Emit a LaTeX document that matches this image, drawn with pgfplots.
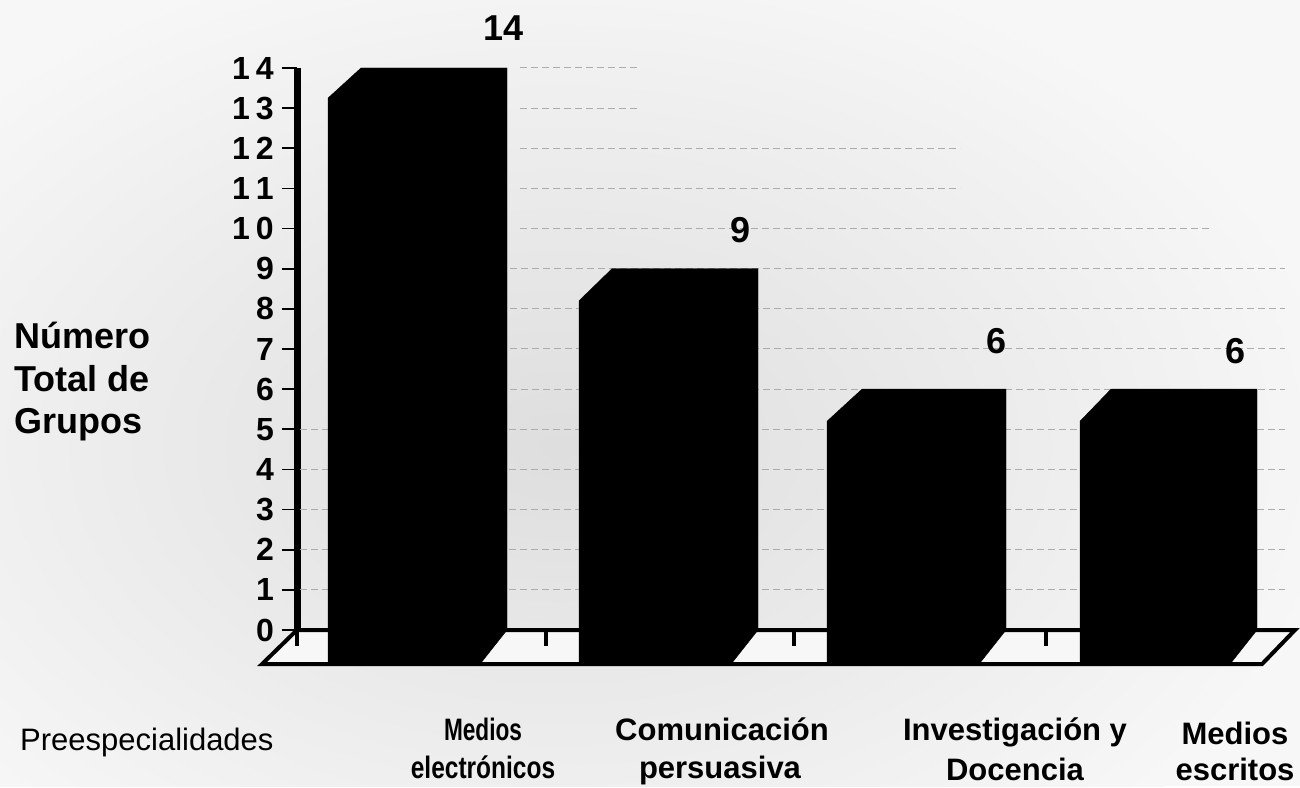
\documentclass[border=0pt]{standalone}
\usepackage{fontspec}
\setmainfont{Liberation Sans}
\usepackage{graphicx}
\usepackage{pgfplots}
\pgfplotsset{compat=1.18}
\newcommand{\fs}[1]{\fontsize{#1}{#1}\selectfont}
\begin{document}
\begin{tikzpicture}[x=1pt,y=1pt]
% paper tone of the scan (picture frame 1300 x 786)
\fill[gray!6] (0,0) rectangle (1300,786);
\begin{scope}
\clip (0,0) rectangle (1300,786);
\shade[inner color=gray!26,outer color=gray!6] (560,340) ellipse [x radius=800,y radius=520];
\end{scope}
\begin{axis}[
  at={(297pt,156pt)},anchor=south west,
  scale only axis,width=998pt,height=562pt,
  xmin=297,xmax=1295,ymin=0,ymax=14,
  clip=false,
  axis x line=none,axis y line=left,
  axis line style={-,line width=7pt,black},
  ytick={0,1,2,3,4,5,6,7,8,9,10,11,12,13,14},
  yticklabels={0,1,2,3,4,5,6,7,8,9,1\hspace{6pt}0,1\hspace{6pt}1,1\hspace{6pt}2,1\hspace{6pt}3,1\hspace{6pt}4},
  tick align=outside,
  major tick length=15pt,
  tick style={black,line width=1.6pt},
  yticklabel style={font=\fs{32}\bfseries,inner sep=0pt,xshift=-8pt},
]
% dashed wall lines
\addplot[gray!65,line width=1pt,dash pattern=on 7pt off 4pt] coordinates {(520,14)(640,14)};
\addplot[gray!65,line width=1pt,dash pattern=on 7pt off 4pt] coordinates {(520,13)(640,13)};
\addplot[gray!65,line width=1pt,dash pattern=on 7pt off 4pt] coordinates {(520,12)(960,12)};
\addplot[gray!65,line width=1pt,dash pattern=on 7pt off 4pt] coordinates {(520,11)(960,11)};
\addplot[gray!65,line width=1pt,dash pattern=on 7pt off 4pt] coordinates {(520,10)(1210,10)};
\addplot[gray!65,line width=1pt,dash pattern=on 7pt off 4pt] coordinates {(510,9)(1285,9)};
\addplot[gray!65,line width=1pt,dash pattern=on 7pt off 4pt] coordinates {(510,8)(1285,8)};
\addplot[gray!65,line width=1pt,dash pattern=on 7pt off 4pt] coordinates {(510,7)(1285,7)};
\addplot[gray!65,line width=1pt,dash pattern=on 7pt off 4pt] coordinates {(510,6)(1285,6)};
\addplot[gray!65,line width=1pt,dash pattern=on 7pt off 4pt] coordinates {(300,5)(1285,5)};
\addplot[gray!65,line width=1pt,dash pattern=on 7pt off 4pt] coordinates {(300,4)(1285,4)};
\addplot[gray!65,line width=1pt,dash pattern=on 7pt off 4pt] coordinates {(300,3)(1285,3)};
\addplot[gray!65,line width=1pt,dash pattern=on 7pt off 4pt] coordinates {(300,2)(1285,2)};
\addplot[gray!65,line width=1pt,dash pattern=on 7pt off 4pt] coordinates {(300,1)(1285,1)};
% floor
\addplot[fill=gray!6,draw=black,line width=4pt,line join=miter] coordinates {(297,0)(1295,0)(1262,-0.85)(262,-0.85)} -- cycle;
\addplot[black,line width=4pt] coordinates {(546,0)(546,-0.4)};
\addplot[black,line width=4pt] coordinates {(794,0)(794,-0.4)};
\addplot[black,line width=4pt] coordinates {(1046,0)(1046,-0.4)};
\addplot[black,line width=4pt] coordinates {(297,0)(297,-0.4)};
% bars
\addplot[fill=black,draw=black] coordinates {(328,13.25)(361,14)(507,14)(507,0)(480,-0.85)(328,-0.85)} -- cycle;
\addplot[fill=black,draw=black] coordinates {(579,8.2)(612,9)(758,9)(758,0)(731,-0.85)(579,-0.85)} -- cycle;
\addplot[fill=black,draw=black] coordinates {(827,5.2)(862,6)(1006,6)(1006,0)(979,-0.85)(827,-0.85)} -- cycle;
\addplot[fill=black,draw=black] coordinates {(1080,5.2)(1111,6)(1257,6)(1257,0)(1230,-0.85)(1080,-0.85)} -- cycle;
% value labels
\node[font=\fs{36}\bfseries] at (axis cs:504,15) {14};
\node[font=\fs{36}\bfseries] at (axis cs:741,9.95) {9};
\node[font=\fs{36}\bfseries] at (axis cs:996,7.2) {6};
\node[font=\fs{36}\bfseries] at (axis cs:1235,6.95) {6};
% axis and category labels
\node[font=\fs{36}\bfseries,anchor=base west,inner sep=0pt] at (axis cs:14,7.0) {Número};
\node[font=\fs{36}\bfseries,anchor=base west,inner sep=0pt] at (axis cs:14,5.93) {Total de};
\node[font=\fs{36}\bfseries,anchor=base west,inner sep=0pt] at (axis cs:14,4.9) {Grupos};
\node[font=\fs{31},anchor=base west,inner sep=0pt] at (axis cs:20,-2.99) {Preespecialidades};
\node[font=\fs{31}\bfseries,anchor=base] at (axis cs:483,-2.76) {\scalebox{0.73}[1]{Medios}};
\node[font=\fs{31}\bfseries,anchor=base] at (axis cs:483,-3.69) {\scalebox{0.79}[1]{electrónicos}};
\node[font=\fs{31}\bfseries,anchor=base] at (axis cs:722,-2.76) {Comunicación};
\node[font=\fs{31}\bfseries,anchor=base] at (axis cs:720,-3.69) {persuasiva};
\node[font=\fs{31}\bfseries,anchor=base] at (axis cs:1015,-2.76) {Investigación y};
\node[font=\fs{31}\bfseries,anchor=base] at (axis cs:1015,-3.74) {Docencia};
\node[font=\fs{31}\bfseries,anchor=base] at (axis cs:1235,-2.84) {Medios};
\node[font=\fs{31}\bfseries,anchor=base] at (axis cs:1235,-3.74) {escritos};
\end{axis}
\end{tikzpicture}
\end{document}
